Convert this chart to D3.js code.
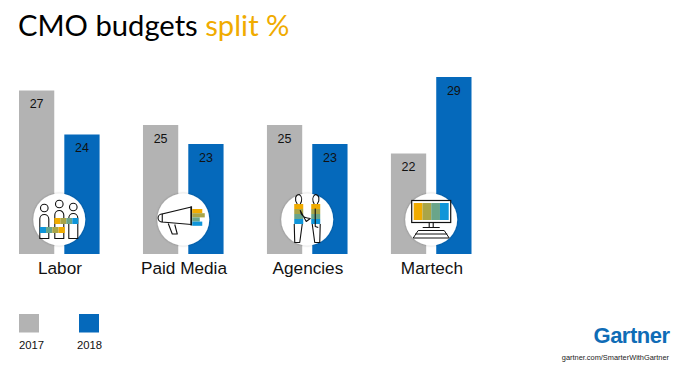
<!DOCTYPE html>
<html><head><meta charset="utf-8">
<script src="https://cdn.jsdelivr.net/npm/d3@7"></script>
<style>html,body{margin:0;padding:0;background:#fff}svg{display:block}</style>
</head><body><svg id="c" width="679" height="368"></svg>
<script>
const categories = ["Labor","Paid Media","Agencies","Martech"];
const years = ["2017","2018"];
const values2017 = [27,25,25,22];
const values2018 = [24,23,23,29];
const yTicksRead = [22,23,24,25,27,29];
const colors = {"2017":"#b3b3b3","2018":"#0569bb"};
const orange="#f0ab00", olive="#a9a548", teal="#6aa58a", sky="#0f95d9";

const svg=d3.select("#c");
const sans="'Liberation Sans',Arial,sans-serif";
// title
const t=svg.append("text").attr("x",18).attr("y",36).attr("font-family","Lato,sans-serif").attr("font-size",29.2);
t.append("tspan").attr("fill","#000").text("CMO budgets ");
t.append("tspan").attr("fill",orange).text("split %");

const x=d3.scaleBand().domain(categories).range([19,471.5]).paddingInner(0.35);
const xs=d3.scaleBand().domain(years).range([0,x.bandwidth()]).paddingInner(0.222);
// The bars in the source are not proportional to their labels, so the height scale is piecewise.
const h=d3.scaleLinear().domain(yTicksRead).range([100.5,110,119.5,129,163.5,177]);
const base=254;
const rows=categories.map((c,i)=>({c,vals:[{y:"2017",v:values2017[i]},{y:"2018",v:values2018[i]}]}));
const g=svg.selectAll("g.cat").data(rows).join("g").attr("class","cat").attr("transform",d=>`translate(${x(d.c)},0)`);
g.selectAll("rect").data(d=>d.vals).join("rect")
 .attr("x",d=>xs(d.y)).attr("width",xs.bandwidth()).attr("y",d=>base-h(d.v)).attr("height",d=>h(d.v)).attr("fill",d=>colors[d.y]);
g.selectAll("text.v").data(d=>d.vals).join("text").attr("class","v")
 .attr("x",d=>xs(d.y)+xs.bandwidth()/2).attr("y",d=>base-h(d.v)+17.5).attr("text-anchor","middle")
 .attr("font-family",sans).attr("font-size",12.5).attr("fill","#111").text(d=>d.v);
g.append("text").attr("x",x.bandwidth()/2+0.7).attr("y",274).attr("text-anchor","middle")
 .attr("font-family",sans).attr("font-size",17.2).attr("fill","#111").text(d=>d.c);

// icons
const defs=svg.append("defs");
const f=defs.append("filter").attr("id","sh").attr("x","-20%").attr("y","-20%").attr("width","140%").attr("height","140%");
f.append("feDropShadow").attr("dx",0).attr("dy",0).attr("stdDeviation",1).attr("flood-color","#000").attr("flood-opacity",.3);
const ic=g.append("g").attr("transform",`translate(${x.bandwidth()/2},219.5)`);
ic.append("circle").attr("r",26).attr("fill","#fff").attr("filter","url(#sh)");
function strip(p,x0,y0,w,h,cols,vert){cols.forEach((c,i)=>{
  p.append("rect").attr("x",vert?x0:x0+i*w/cols.length).attr("y",vert?y0+i*h/cols.length:y0)
   .attr("width",vert?w:w/cols.length).attr("height",vert?h/cols.length:h).attr("fill",c);});}
const line=(p,d,w=1.1)=>p.append("path").attr("d",d).attr("fill","none").attr("stroke","#111").attr("stroke-width",w).attr("stroke-linejoin","round");
const person=(p,cx,hy,by)=>{p.append("circle").attr("cx",cx).attr("cy",hy).attr("r",3.8).attr("fill","#fff").attr("stroke","#111").attr("stroke-width",1.1);
  line(p,`M${cx-4.5} ${by} V${hy+11} a4.5 4.5 0 0 1 9 0 V${by} Z`);};
// Labor
{const p=d3.select(ic.nodes()[0]);person(p,-15,-11.5,19);person(p,0,-15.5,19);person(p,14,-12.5,19);
 strip(p,-5,-1.5,24,6,[orange,olive,teal,sky]);strip(p,-19.5,7.5,25,6,[sky,teal,olive,orange]);}
// Paid media
{const p=d3.select(ic.nodes()[1]);
 strip(p,9,-10.5,10,4.2,[orange]);strip(p,9,-6.3,12.5,4.2,[olive]);strip(p,9,-2.1,7.5,4.2,[teal]);strip(p,9,2.1,10,4.2,[sky]);
 p.append("path").attr("d","M8 -12.5 L-21 -5.5 V2.5 L8 5 Z").attr("fill","#fff").attr("stroke","#111").attr("stroke-width",1.1);
 line(p,"M8 -13 V6",1.6);line(p,"M-21 -5.5 a4.2 4 0 0 0 0 8");line(p,"M-15 4 L-11 14.5 H-6 L-8.5 5");}
// Agencies
{const p=d3.select(ic.nodes()[2]);
 strip(p,-13,-15.5,9,20,[orange,olive,teal,sky],true);strip(p,4,-15.5,9,20,[orange,olive,teal,sky],true);
 line(p,"M-10 -15.5 C-13 -20 -12 -25 -8 -25 C-5 -23 -5 -19 -7 -15.5");line(p,"M10 -15.5 C13 -20 12 -25 8 -25 C5 -23 5 -19 7 -15.5");
 line(p,"M-13 4.5 L-12.5 23 H-7.5 L-5 4.5");line(p,"M13 4.5 L12.5 23 H7.5 L5 4.5");
 line(p,"M-7 -9 C-6 -3 -3 -2 0 -1.5 L3 -1 L-1 2 Z");line(p,"M8 -11 V7 L11 8");}
// Martech
{const p=d3.select(ic.nodes()[3]);
 p.append("rect").attr("x",-19.5).attr("y",-19).attr("width",39).attr("height",22).attr("fill","#fff").attr("stroke","#111").attr("stroke-width",1.2);
 strip(p,-17.5,-16.5,35,17,[orange,olive,teal,sky]);
 line(p,"M-2 3 V8 M2 3 V8 M-8.5 8 H8.5");
 line(p,"M-13 11 H13 M-16 14.5 H16 M-18 18.5 H18 M-13 11 L-18 18.5 M13 11 L18 18.5",1);}

// legend
const lx=d3.scalePoint().domain(years).range([29,89]);
const lt=d3.scalePoint().domain(years).range([31.5,89.5]);
const lg=svg.selectAll("g.lg").data(years).join("g").attr("class","lg");
lg.append("rect").attr("x",d=>lx(d)-10).attr("y",314).attr("width",20).attr("height",18.5).attr("fill",d=>colors[d]);
lg.append("text").attr("x",d=>lt(d)).attr("y",349).attr("text-anchor","middle").attr("font-family",sans).attr("font-size",11.3).attr("fill","#111").text(d=>d);

// brand
svg.append("text").attr("x",669.5).attr("y",342.5).attr("text-anchor","end").attr("font-family",sans).attr("font-weight",700).attr("font-size",22).attr("letter-spacing",-0.5).attr("fill","#0f6cb6").text("Gartner");
svg.append("text").attr("x",669).attr("y",359.5).attr("text-anchor","end").attr("font-family",sans).attr("font-size",7.4).attr("fill","#222").text("gartner.com/SmarterWithGartner");
</script></body></html>
